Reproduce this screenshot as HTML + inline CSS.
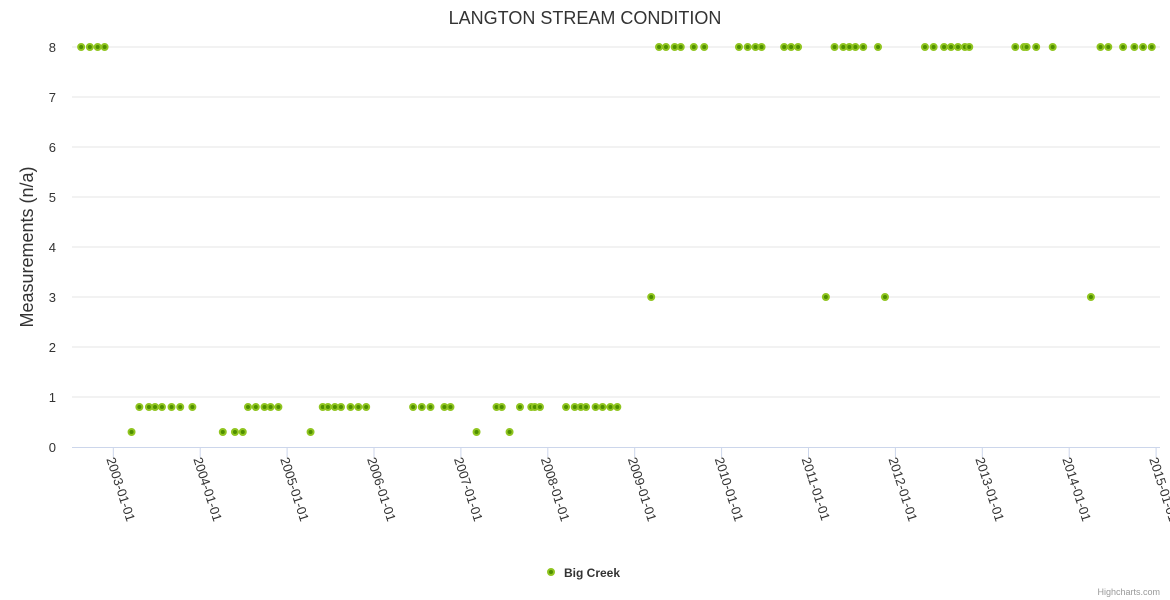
<!DOCTYPE html>
<html><head><meta charset="utf-8"><style>
body{margin:0;background:#fff;}
svg{display:block;font-family:"Liberation Sans",sans-serif;}
</style></head><body>
<svg id="chart" width="1170" height="600">
<text x="585" y="24" text-anchor="middle" font-size="18" fill="#333">LANGTON STREAM CONDITION</text>
<text transform="translate(33,247) rotate(-90)" text-anchor="middle" font-size="18" fill="#333">Measurements (n/a)</text>
<g id="grid"></g><g id="xaxis"></g><g id="points"></g>
<g>
<circle cx="551" cy="572" r="3" fill="#4f8f00" stroke="#90c520" stroke-width="2"></circle>
<text x="564" y="577" font-size="12" font-weight="bold" fill="#333">Big Creek</text>
</g>
<text x="1160" y="595" text-anchor="end" font-size="9" fill="#999">Highcharts.com</text>
</svg>
<script>
const yTicks=[0,1,2,3,4,5,6,7,8];
const xTickYears=[2003,2004,2005,2006,2007,2008,2009,2010,2011,2012,2013,2014,2015];
const dates=[2002.63,2002.73,2002.82,2002.90,2003.21,2003.30,2003.41,2003.48,2003.56,2003.67,2003.77,2003.91,2004.26,2004.40,2004.49,2004.55,2004.64,2004.74,2004.81,2004.90,2005.27,2005.41,2005.47,2005.55,2005.62,2005.73,2005.82,2005.91,2006.45,2006.55,2006.65,2006.81,2006.88,2007.18,2007.41,2007.47,2007.56,2007.68,2007.81,2007.85,2007.91,2008.21,2008.31,2008.38,2008.44,2008.55,2008.63,2008.72,2008.80,2009.19,2009.28,2009.36,2009.46,2009.53,2009.68,2009.80,2010.20,2010.30,2010.39,2010.46,2010.72,2010.80,2010.88,2011.20,2011.30,2011.40,2011.47,2011.54,2011.63,2011.80,2011.88,2012.34,2012.44,2012.56,2012.64,2012.72,2012.80,2012.85,2013.38,2013.48,2013.51,2013.62,2013.81,2014.25,2014.36,2014.45,2014.62,2014.75,2014.85,2014.95];
const values=[8,8,8,8,0.3,0.8,0.8,0.8,0.8,0.8,0.8,0.8,0.3,0.3,0.3,0.8,0.8,0.8,0.8,0.8,0.3,0.8,0.8,0.8,0.8,0.8,0.8,0.8,0.8,0.8,0.8,0.8,0.8,0.3,0.8,0.8,0.3,0.8,0.8,0.8,0.8,0.8,0.8,0.8,0.8,0.8,0.8,0.8,0.8,3,8,8,8,8,8,8,8,8,8,8,8,8,8,3,8,8,8,8,8,8,3,8,8,8,8,8,8,8,8,8,8,8,8,3,8,8,8,8,8,8];
const NS="http://www.w3.org/2000/svg";
const xS=v=>113.3+(v-2003)*86.9;
const yS=v=>447-v*50;
const grid=document.getElementById('grid');
yTicks.forEach(t=>{
  if(t>0){const l=document.createElementNS(NS,'line');
  l.setAttribute('x1',72);l.setAttribute('x2',1160);l.setAttribute('y1',yS(t));l.setAttribute('y2',yS(t));
  l.setAttribute('stroke','#e6e6e6');
  
  
  grid.appendChild(l);}
  const tx=document.createElementNS(NS,'text');
  tx.setAttribute('x',56);tx.setAttribute('y',yS(t)+5);tx.setAttribute('text-anchor','end');
  tx.setAttribute('font-size','13');tx.setAttribute('fill','#333');tx.textContent=t;
  
  
  grid.appendChild(tx);
});
const xa=document.getElementById('xaxis');
const ax=document.createElementNS(NS,'line');
ax.setAttribute('x1',72);ax.setAttribute('x2',1160);ax.setAttribute('y1',447.5);ax.setAttribute('y2',447.5);ax.setAttribute('stroke','#ccd6eb');


xa.appendChild(ax);
xTickYears.forEach(y=>{
  const x=xS(y);
  const tk=document.createElementNS(NS,'line');
  tk.setAttribute('x1',x);tk.setAttribute('x2',x);tk.setAttribute('y1',447);tk.setAttribute('y2',457);tk.setAttribute('stroke','#ccd6eb');
  
  
  xa.appendChild(tk);
  const t=document.createElementNS(NS,'text');
  t.setAttribute('transform',`translate(${x-7},${459}) rotate(72)`);
  t.setAttribute('font-size','13');t.setAttribute('fill','#333');
  t.textContent=y+'-01-01';
  
  
  xa.appendChild(t);
});
const pts=document.getElementById('points');
dates.forEach((d,i)=>{
  const c=document.createElementNS(NS,'circle');
  c.setAttribute('cx',xS(d));c.setAttribute('cy',yS(values[i]));c.setAttribute('r',3);
  c.setAttribute('fill','#4f8f00');c.setAttribute('stroke','#90c520');c.setAttribute('stroke-width',2);
  
  
  pts.appendChild(c);
});
</script>
</body></html>
